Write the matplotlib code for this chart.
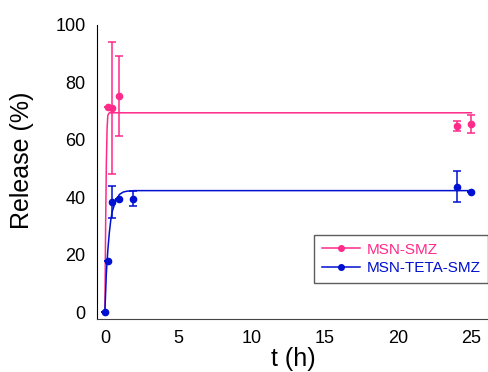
import matplotlib
matplotlib.use('Agg')
import matplotlib.pyplot as plt

plt.rcParams['font.family'] = ['Liberation Sans', 'DejaVu Sans']

# measured release data
t_smz = [0.2, 0.5, 0.95, 24, 25]
r_smz = [71.4, 71.0, 75.3, 64.8, 65.5]
e_smz = [0, 23.0, 14.0, 1.8, 3.3]

t_teta = [0, 0.2, 0.5, 0.95, 1.95, 24, 25]
r_teta = [0, 17.8, 38.3, 39.4, 39.4, 43.7, 41.9]
e_teta = [0, 0, 5.5, 0, 2.6, 5.5, 0]

# fitted curves
tf_smz = [0, 0.05, 0.1, 0.15, 0.2, 0.3, 25]
rf_smz = [0, 30, 52, 64, 68.5, 69.4, 69.4]

tf_teta = [0, 0.1, 0.2, 0.3, 0.4, 0.5, 0.75, 1.0, 1.25, 1.5, 2.0, 25]
rf_teta = [0, 13.5, 21.5, 27.5, 32, 35.0, 39.0, 41.0, 41.8, 42.1, 42.3, 42.3]

pink = '#ff2a8a'
blue = '#0010d0'

fig = plt.figure(figsize=(4.89, 3.72), dpi=100)
ax = fig.add_axes([0.198, 0.1425, 0.802, 0.7905])

ax.plot(tf_smz, rf_smz, color=pink, lw=1.1)
ax.plot(tf_teta, rf_teta, color=blue, lw=1.1)
ax.errorbar(t_smz, r_smz, yerr=e_smz, fmt='o', color=pink, ms=4.5,
            capsize=3, elinewidth=1.1, capthick=1.1)
ax.errorbar(t_teta, r_teta, yerr=e_teta, fmt='o', color=blue, ms=4.5,
            capsize=3, elinewidth=1.1, capthick=1.1)

# legend handles
h1, = ax.plot([], [], '-o', color=pink, ms=4, lw=1.1)
h2, = ax.plot([], [], '-o', color=blue, ms=4, lw=1.1)
leg = ax.legend([h1, h2], ['MSN-SMZ', 'MSN-TETA-SMZ'], loc='upper right',
                bbox_to_anchor=(488 / 489, 1 - 235 / 372), bbox_transform=fig.transFigure,
                fontsize=11, frameon=True, fancybox=False, handlelength=2.5,
                borderpad=0.5, labelspacing=0.3, handletextpad=0.4,
                borderaxespad=0)
leg.get_frame().set_edgecolor('#333333')
leg.get_frame().set_linewidth(1.0)
for txt, c in zip(leg.get_texts(), [pink, blue]):
    txt.set_color(c)

ax.set_xlim(-0.55, 26.2)
ax.set_ylim(-2.4, 100)
ax.set_xticks([0, 5, 10, 15, 20, 25])
ax.set_yticks([0, 20, 40, 60, 80, 100])
ax.tick_params(length=0, labelsize=13, pad=8)
ax.spines['top'].set_visible(False)
ax.spines['right'].set_visible(False)
ax.spines['left'].set_color('black')
ax.spines['bottom'].set_color('#444444')
ax.set_xlabel('t (h)', fontsize=18, labelpad=0)
ax.set_ylabel('Release (%)', fontsize=18)
ax.yaxis.set_label_coords(-0.16, 0.54)

fig.savefig('out.png', dpi=100)
